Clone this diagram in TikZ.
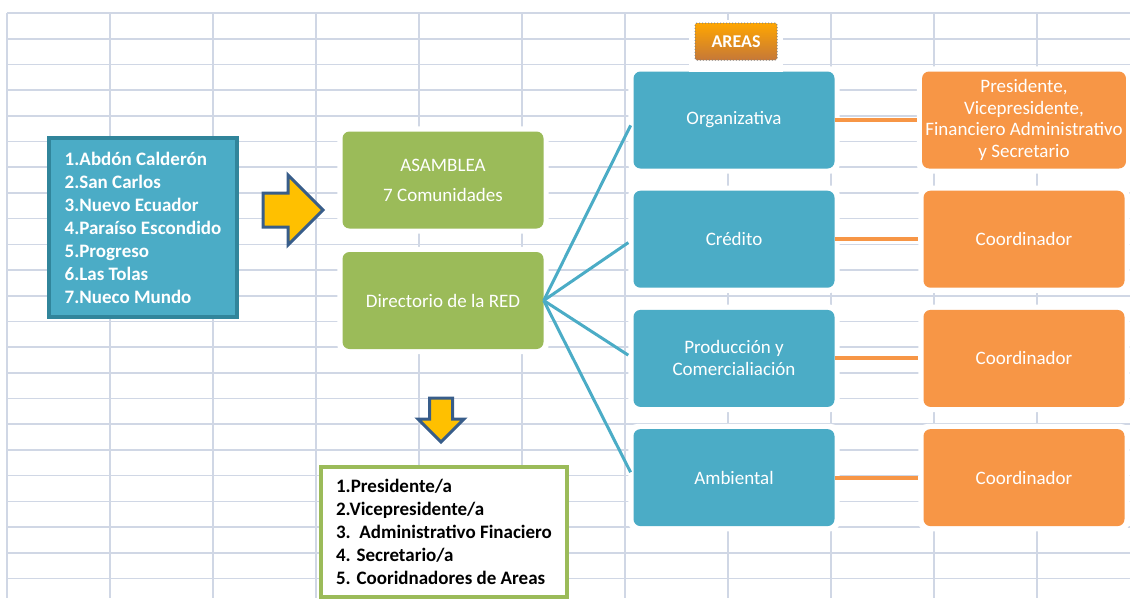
\documentclass[tikz,border=0pt]{standalone}
\usepackage{fontspec}
\setmainfont{Carlito}
\usetikzlibrary{positioning, calc, backgrounds, shapes.arrows}
\definecolor{cGrid}{RGB}{208,215,229}
\definecolor{cBlue}{RGB}{75,172,198}
\definecolor{cBlueD}{RGB}{49,133,155}
\definecolor{cGreen}{RGB}{155,187,89}
\definecolor{cOrange}{RGB}{247,150,70}
\definecolor{cYellow}{RGB}{255,192,0}
\definecolor{cNavy}{RGB}{56,93,138}

\begin{document}
\begin{tikzpicture}[x=1pt, y=-1pt,
    gridline/.style={cGrid, line width=1.6pt},
    smartbox/.style={rounded corners=7pt, minimum width=201pt, minimum height=97pt,
        text=white, align=center, font=\fontsize{19}{22}\selectfont},
    redbox/.style={smartbox, fill=cGreen},
    areabox/.style={smartbox, fill=cBlue},
    rolebox/.style={smartbox, fill=cOrange},
    fanline/.style={cBlue, line width=3pt, shorten >=6pt},
    roleline/.style={cOrange, line width=4pt, shorten >=5pt},
    blockarrow/.style={single arrow, draw=cNavy, fill=cYellow, line width=3pt,
        inner xsep=0pt, single arrow tip angle=90, anchor=tail}
]
    \useasboundingbox (0,0) rectangle (1130,598);

    % --- Spreadsheet grid ---
    \begin{scope}[on background layer]
        \foreach \k in {0,...,10}
            \draw[gridline] ({7+103*\k}, 13) -- ({7+103*\k}, 598);
        \foreach \k in {0,...,22}
            \draw[gridline] (7, {13+25.7*\k}) -- (1130, {13+25.7*\k});
    \end{scope}

    % --- Communities list ---
    \node[fill=cBlue, draw=cBlueD, line width=4pt, minimum width=188pt, minimum height=179pt,
          text=white, align=left, font=\bfseries\fontsize{19}{23}\selectfont] (comunidades) at (143, 227.5)
        {1.Abdón Calderón\\2.San Carlos\\3.Nuevo Ecuador\\4.Paraíso Escondido\\5.Progreso\\6.Las Tolas\\7.Nueco Mundo};

    \node[blockarrow, inner ysep=15.5pt, single arrow head extend=18pt, minimum height=60pt] (flecha) at (261.5, 210) {};

    % --- Network bodies ---
    \node[redbox] (asamblea) at (443, 180) {ASAMBLEA\\[8pt]7 Comunidades};
    \node[redbox] (directorio) at (443, 300.5) {Directorio de la RED};

    \node[blockarrow, rotate=-90, inner ysep=10pt, single arrow head extend=11.5pt, minimum height=44pt] (bajada) at (441, 396.5) {};

    % Board members
    \node[fill=white, draw=cGreen, line width=4pt, minimum width=246pt, minimum height=130pt,
          align=left, font=\bfseries\fontsize{19}{23}\selectfont] (cargos) at (444, 532)
        {1.Presidente/a\\2.Vicepresidente/a\\3.\ \ Administrativo Finaciero\\4. Secretario/a\\5. Cooridnadores de Areas};

    % --- Areas and their coordinators ---
    \foreach \n/\txt/\rol [count=\i from 0] in {
        org/Organizativa/{Presidente,\\Vicepresidente,\\Financiero Administrativo\\y Secretario},
        cred/Crédito/Coordinador,
        prod/{Producción y\\Comercialiación}/Coordinador,
        amb/Ambiental/Coordinador} {
        \node[areabox] (\n) at (734, {120+119.2*\i}) {\txt};
        \node[rolebox, font=\fontsize{19}{21.5}\selectfont] (\n rol) at (1024, {120+119.2*\i}) {\rol};
        \draw[fanline] (directorio.east) -- (\n.west);
        \draw[roleline] (\n.east) -- (\n rol.west);
    }

    % White margins round the diagram boxes
    \begin{scope}[on background layer]
        \foreach \n in {asamblea, directorio, org, cred, prod, amb, orgrol, credrol, prodrol, ambrol}
            \fill[white, rounded corners=9pt] ($(\n.south west)+(-5,5)$) rectangle ($(\n.north east)+(5,-5)$);
    \end{scope}

    % --- AREAS title ---
    \node[fill=white, minimum width=94pt, minimum height=52pt] (titulofondo) at (736, 46) {};
    \node[draw=gray, dotted, line width=1pt, rounded corners=2pt, top color=orange!70!yellow, bottom color=cOrange!80!black,
          minimum width=82pt, minimum height=37pt, text=white, font=\bfseries\fontsize{18}{20}\selectfont] (areas) at (736, 41.5) {AREAS};
\end{tikzpicture}
\end{document}
